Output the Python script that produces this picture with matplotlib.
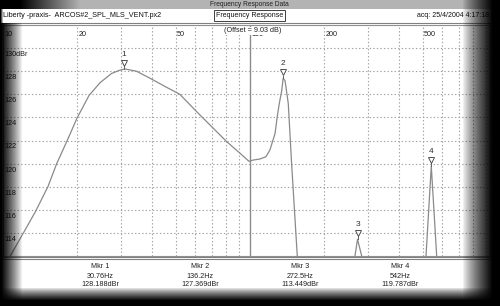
import numpy as np
import matplotlib
matplotlib.use("Agg")
import matplotlib.pyplot as plt
from matplotlib.lines import Line2D
from matplotlib.transforms import offset_copy

plt.rcParams['font.family'] = ['Liberation Sans', 'DejaVu Sans']

# main response (Hz, dBr)
resp_freq = [10.7, 13.5, 15.2, 16.5, 18.2, 19.9, 22.3, 24.7, 27.5, 29.8, 31.2, 34.7,
             39.3, 46.0, 52.0, 60.8, 70.7, 80.5, 91.1, 99.0, 102.7, 109.8, 116.1,
             120.5, 126.3, 129.0, 131.4, 134.4, 136.2, 138.6, 142.9, 147.5, 155.4]
resp_db = [112.0, 115.8, 118.0, 120.0, 122.0, 123.9, 125.9, 127.0, 127.8, 128.1, 128.19, 128.0,
           127.4, 126.6, 126.0, 124.5, 123.1, 121.9, 120.9, 120.2, 120.3, 120.4, 120.6,
           121.2, 122.6, 124.1, 125.2, 126.3, 127.37, 127.2, 125.2, 119.9, 112.0]
# narrow peaks further up
peak3_freq = [266.1, 272.5, 283.3]
peak3_db = [112.0, 113.449, 112.0]
peak4_freq = [516.0, 542.0, 570.0]
peak4_db = [112.0, 119.787, 112.0]

mkr_names = ['Mkr 1', 'Mkr 2', 'Mkr 3', 'Mkr 4']
mkr_freq = [30.76, 136.2, 272.5, 542.0]
mkr_db = [128.188, 127.369, 113.449, 119.787]
mkr_freq_txt = ['30.76Hz', '136.2Hz', '272.5Hz', '542Hz']
mkr_db_txt = ['128.188dBr', '127.369dBr', '113.449dBr', '119.787dBr']

x_ticks = [10, 20, 50, 100, 200, 500]
minor_x = [30, 40, 60, 70, 80, 90, 300, 400, 600, 700, 800, 900]
y_ticks = [130, 128, 126, 124, 122, 120, 118, 116, 114]

W, H = 500, 306
fig = plt.figure(figsize=(W / 100, H / 100), dpi=100)
fig.patch.set_facecolor('white')

ax = fig.add_axes([3 / W, 50 / H, 487 / W, 231 / H])
ax.set_xscale('log')
ax.set_xlim(10, 937)
ax.set_ylim(112, 132)
ax.set_xticks([])
ax.set_yticks([])
ax.minorticks_off()
for s in ax.spines.values():
    s.set_color('#909090')
    s.set_linewidth(0.8)

grid_kw = dict(color='#a0a0a0', lw=0.8, ls=(0, (1.2, 2.0)), zorder=1)
for f in x_ticks[1:] + minor_x:
    if f == 100:
        ax.axvline(f, color='#8c8c8c', lw=1.0, zorder=1)
    else:
        ax.axvline(f, **grid_kw)
for d in y_ticks + [132]:
    ax.axhline(d, **grid_kw)

lab = dict(fontsize=5.2, color='#202020')
below = offset_copy(ax.transData, fig, x=0, y=-3, units='dots')
for d in y_ticks:
    txt = '130dBr' if d == 130 else str(d)
    ax.text(10.1, d, txt, transform=below, ha='left', va='top', zorder=6, **lab)
top_tr = ax.get_xaxis_transform()
for f in x_ticks:
    ax.text(f * 1.01, 0.975, str(f), transform=top_tr, ha='left', va='top', zorder=2, **lab)
ax.text(0.513, 0.99, '(Offset = 9.03 dB)', transform=ax.transAxes,
        ha='center', va='top', fontsize=5.2, color='#202020', zorder=3,
        bbox=dict(facecolor='white', edgecolor='none', pad=0.2))

line_kw = dict(color='#8a8a8a', lw=0.9, zorder=3)
ax.plot(resp_freq, resp_db, **line_kw)
ax.plot(peak3_freq, peak3_db, **line_kw)
ax.plot(peak4_freq, peak4_db, **line_kw)

# marker flags
tri_tr = offset_copy(ax.transData, fig, x=0, y=6, units='dots')
num_tr = offset_copy(ax.transData, fig, x=0, y=15, units='dots')
for i, (f, d) in enumerate(zip(mkr_freq, mkr_db)):
    ax.plot([f, f], [d, d + 0.25], color='#606060', lw=0.7, zorder=4)
    ax.plot(f, d, marker='v', ms=5, mfc='white', mec='#505050', mew=0.7,
            transform=tri_tr, zorder=5, clip_on=False)
    ax.text(f, d, str(i + 1), transform=num_tr, ha='center', va='center',
            fontsize=6, color='#303030', zorder=5)

# header
fig.text(249 / W, 1 - 4 / H, 'Frequency Response Data', ha='center', va='center',
         fontsize=4.8, color='#303030')
fig.text(3 / W, 1 - 15.5 / H, 'Liberty -praxis-  ARCOS#2_SPL_MLS_VENT.px2',
         ha='left', va='center', fontsize=5.2, color='#101010')
fig.text(249.5 / W, 1 - 15.5 / H, 'Frequency Response', ha='center', va='center',
         fontsize=5.0, color='#101010',
         bbox=dict(facecolor='white', edgecolor='#404040', lw=0.7, pad=1.2))
fig.text(417 / W, 1 - 15.5 / H, 'acq: 25/4/2004 4:17:18 \u03bc\u03bc',
         ha='left', va='center', fontsize=5.0, color='#101010')
fig.add_artist(Line2D([0, 1], [1 - 23 / H, 1 - 23 / H], color='#808080', lw=0.8))
for yy in (256.5, 258.5):
    fig.add_artist(Line2D([0, 1], [1 - yy / H, 1 - yy / H], color='#808080', lw=0.8))

# marker readout
for i in range(4):
    xc = (100 + 100 * i) / W
    fig.text(xc, 1 - 267 / H, mkr_names[i], ha='center', va='center', **lab)
    fig.text(xc, 1 - 276 / H, mkr_freq_txt[i], ha='center', va='center', **lab)
    fig.text(xc, 1 - 285 / H, mkr_db_txt[i], ha='center', va='center', **lab)

# shaded window border
yy, xx = np.mgrid[0:H, 0:W].astype(float)
aL = np.clip((22 - xx) / 21, 0, 1) ** 0.9
aL = np.where(yy < 23, np.clip((3 - xx) / 3, 0, 1), aL)
aR = np.clip((xx - 462) / 30, 0, 1) ** 0.8
aB = np.clip((yy - 287) / 13, 0, 1) ** 0.8
aT = np.where(yy < 9, 0.3 + 0.7 * np.clip((80 - xx) / 60, 0, 1), 0)
alpha = 1 - (1 - aL) * (1 - aR) * (1 - aB) * (1 - aT)
rgba = np.zeros((H, W, 4))
rgba[..., 3] = np.clip(alpha, 0, 1)
fig.figimage(rgba, xo=0, yo=0, origin='upper', zorder=10)

fig.savefig('out.png', dpi=100, facecolor='white')
